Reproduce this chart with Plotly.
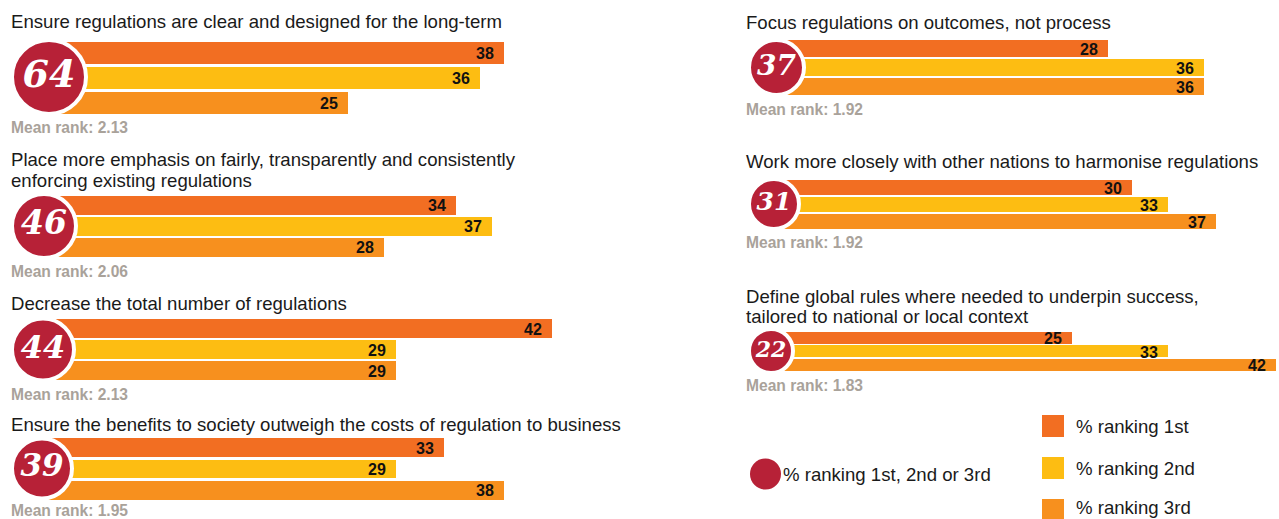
import plotly.graph_objects as go

# ---- survey results -------------------------------------------------------
titles = [
    "Ensure regulations are clear and designed for the long-term",
    "Place more emphasis on fairly, transparently and consistently\nenforcing existing regulations",
    "Decrease the total number of regulations",
    "Ensure the benefits to society outweigh the costs of regulation to business",
    "Focus regulations on outcomes, not process",
    "Work more closely with other nations to harmonise regulations",
    "Define global rules where needed to underpin success,\ntailored to national or local context",
]
pct_top3 = [64, 46, 44, 39, 37, 31, 22]
pct_1st = [38, 34, 42, 33, 28, 30, 25]
pct_2nd = [36, 37, 29, 29, 36, 33, 33]
pct_3rd = [25, 28, 29, 38, 36, 37, 42]
mean_rank = [2.13, 2.06, 2.13, 1.95, 1.92, 1.92, 1.83]
legend_labels = ["% ranking 1st", "% ranking 2nd", "% ranking 3rd"]
circle_label = "% ranking 1st, 2nd or 3rd"

# ---- styling ---------------------------------------------------------------
W, H = 1279, 519
C1, C2, C3 = "#F26E22", "#FDBD12", "#F7901E"
RED = "#B72137"
GREY = "#A9A29A"
INK = "#1A1A1A"
SANS = "Liberation Sans, Arial, sans-serif"
SERIF = "DejaVu Serif, Georgia, serif"
PX_PER_UNIT = 12
TITLE_SIZE = 18.6

# column geometry in pixels
col_left = [0, 730]        # left edge of each column's plotting strip
col_x = [48, 772]          # where zero sits on each column
col_text_x = [9, 744]
col_circle_left = [14, 751]
# panel geometry: bar-block top/bottom, bar fill, circle diameter, text rows
panels = [
    dict(col=0, top=39.5, bot=114.5, bw=0.88, dia=70, title_y=[22], mean_y=127),
    dict(col=0, top=194.5, bot=257.5, bw=0.86, dia=60, title_y=[160, 180], mean_y=271),
    dict(col=0, top=318, bot=381, bw=0.86, dia=58, title_y=[303], mean_y=394),
    dict(col=0, top=436.5, bot=500.5, bw=0.88, dia=56, title_y=[424], mean_y=510),
    dict(col=1, top=39, bot=96, bw=0.88, dia=51, title_y=[23], mean_y=109),
    dict(col=1, top=178.5, bot=229.5, bw=0.9, dia=46, title_y=[162], mean_y=242),
    dict(col=1, top=330.75, bot=371.25, bw=0.88, dia=40, title_y=[296, 316], mean_y=385),
]


def fx(x):
    return x / W


def fy(y):
    return 1 - y / H


fig = go.Figure()
layout = {}
annotations = []
shapes = []

for i, p in enumerate(panels):
    n = "" if i == 0 else str(i + 1)
    xa, ya = "x" + n, "y" + n
    left = col_left[p["col"]]
    x0 = col_x[p["col"]]
    x1 = min(x0 + PX_PER_UNIT * 46, W)
    layout["xaxis" + n] = dict(domain=[fx(left), fx(x1)],
                               range=[(left - x0) / PX_PER_UNIT, (x1 - x0) / PX_PER_UNIT],
                               visible=False, fixedrange=True, anchor=ya)
    layout["yaxis" + n] = dict(domain=[fy(p["bot"]), fy(p["top"])], range=[2.5, -0.5],
                               visible=False, fixedrange=True, anchor=xa)

    vals = [pct_1st[i], pct_2nd[i], pct_3rd[i]]
    fig.add_trace(go.Bar(
        x=vals, y=[0, 1, 2], orientation="h", width=p["bw"],
        marker=dict(color=[C1, C2, C3], line=dict(width=0)),
        xaxis=xa, yaxis=ya, showlegend=False, hoverinfo="skip",
    ))
    for j, v in enumerate(vals):
        annotations.append(dict(
            x=v, y=j, xref=xa, yref=ya, xanchor="right", yanchor="middle",
            xshift=-8, yshift=-1, text=f"<b>{v}</b>", showarrow=False,
            font=dict(family=SANS, size=16, color="#111111"),
        ))

    # headline circle
    ring = 4
    cx_px = col_circle_left[p["col"]] + p["dia"] / 2
    fig.add_trace(go.Scatter(
        x=[(cx_px - x0) / PX_PER_UNIT], y=[1], mode="markers+text",
        marker=dict(size=p["dia"] + ring, color=RED, line=dict(color="white", width=ring)),
        text=[f"<b><i>{pct_top3[i]}</i></b>"], textposition="middle center",
        textfont=dict(family=SERIF, size=round(p["dia"] * 0.55), color="white"),
        xaxis=xa, yaxis=ya, showlegend=False, hoverinfo="skip", cliponaxis=False,
    ))

    for line, ty in zip(titles[i].split("\n"), p["title_y"]):
        annotations.append(dict(
            x=fx(col_text_x[p["col"]]), y=fy(ty), xref="paper", yref="paper",
            xanchor="left", yanchor="middle", text=line, showarrow=False,
            font=dict(family=SANS, size=TITLE_SIZE, color=INK),
        ))
    annotations.append(dict(
        x=fx(col_text_x[p["col"]]), y=fy(p["mean_y"]), xref="paper", yref="paper",
        xanchor="left", yanchor="middle", text=f"<b>Mean rank: {mean_rank[i]:.2f}</b>",
        showarrow=False, font=dict(family=SANS, size=15.6, color=GREY),
    ))

# ---- key ------------------------------------------------------------------
shapes.append(dict(type="circle", xref="paper", yref="paper",
                   x0=fx(750), x1=fx(781), y0=fy(489.5), y1=fy(458.5),
                   fillcolor=RED, line=dict(width=0)))
annotations.append(dict(x=fx(781), y=fy(474), xref="paper", yref="paper",
                        xanchor="left", yanchor="middle", text=circle_label,
                        showarrow=False, font=dict(family=SANS, size=TITLE_SIZE, color=INK)))
for k, (lab, col) in enumerate(zip(legend_labels, [C1, C2, C3])):
    cy = 426 + 42 * k
    shapes.append(dict(type="rect", xref="paper", yref="paper",
                       x0=fx(1042), x1=fx(1064), y0=fy(cy + 11), y1=fy(cy - 11),
                       fillcolor=col, line=dict(width=0)))
    annotations.append(dict(x=fx(1074), y=fy(min(cy, 507)), xref="paper", yref="paper",
                            xanchor="left", yanchor="middle", text=lab,
                            showarrow=False, font=dict(family=SANS, size=TITLE_SIZE, color=INK)))

fig.update_layout(
    width=W, height=H, margin=dict(l=0, r=0, t=0, b=0),
    paper_bgcolor="white", plot_bgcolor="white",
    annotations=annotations, shapes=shapes, showlegend=False,
    bargap=0, **layout,
)
fig.write_html("out.html", config={"displayModeBar": False})
